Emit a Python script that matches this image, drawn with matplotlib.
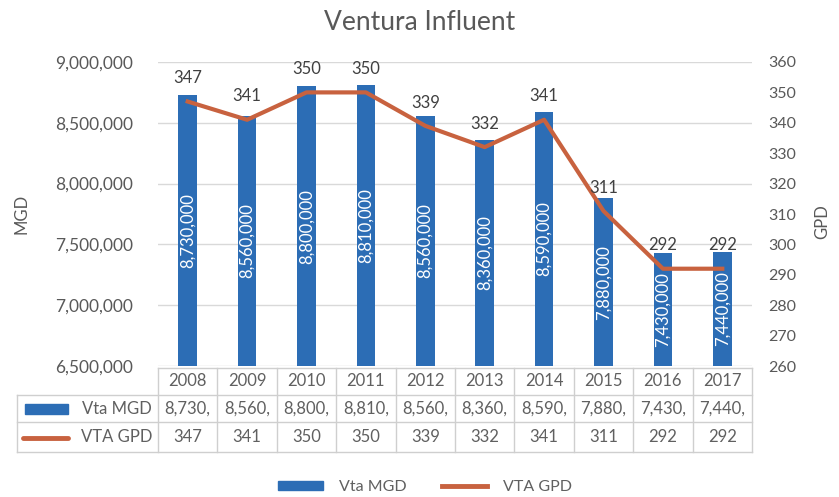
import matplotlib
matplotlib.use("Agg")
import matplotlib.pyplot as plt
from matplotlib.patches import Rectangle
from matplotlib.lines import Line2D
from matplotlib.ticker import FuncFormatter, MultipleLocator

plt.rcParams["font.family"] = ["Lato", "DejaVu Sans"]

# ── data ────────────────────────────────────────────────────────────────────
years   = ["2008", "2009", "2010", "2011", "2012", "2013", "2014", "2015", "2016", "2017"]
vta_mgd = [8730000, 8560000, 8800000, 8810000, 8560000, 8360000, 8590000, 7880000, 7430000, 7440000]
vta_gpd = [347, 341, 350, 350, 339, 332, 341, 311, 292, 292]
series_names = ["Vta MGD", "VTA GPD"]

BLUE  = "#2C6DB5"
RED   = "#C8623F"
GREY  = "#595959"
GRID  = "#D9D9D9"

W, H = 839, 497
fig = plt.figure(figsize=(W / 100, H / 100), dpi=100)
fig.patch.set_facecolor("white")

# plot area in pixel terms
x0, x1, ytop, ybot = 158, 752, 62, 366
ax = fig.add_axes([x0 / W, 1 - ybot / H, (x1 - x0) / W, (ybot - ytop) / H])
n = len(years)
xs = list(range(n))

bars = ax.bar(xs, vta_mgd, width=0.31, color=BLUE, zorder=2)
ax.set_xlim(-0.5, n - 0.5)
ax.set_ylim(6500000, 9000000)
ax.yaxis.set_major_locator(MultipleLocator(500000))
ax.yaxis.set_major_formatter(FuncFormatter(lambda v, p: f"{int(v):,}"))
ax.grid(axis="y", color=GRID, lw=1, zorder=0)
ax.set_xticks([])
ax.tick_params(axis="y", length=0, labelsize=12.5, labelcolor=GREY, pad=18)
for s in ax.spines.values():
    s.set_visible(False)
ax.bar_label(bars, labels=[f"{v:,}" for v in vta_mgd], label_type="center",
             rotation=90, color="white", fontsize=12)

ax2 = ax.twinx()
ax2.plot(xs, vta_gpd, color=RED, lw=3, zorder=3, solid_joinstyle="round")
ax2.set_ylim(260, 360)
ax2.yaxis.set_major_locator(MultipleLocator(10))
ax2.tick_params(axis="y", length=0, labelsize=11.5, labelcolor=GREY, pad=12)
for s in ax2.spines.values():
    s.set_visible(False)
for i, v in enumerate(vta_gpd):
    ax2.annotate(str(v), (i, v), xytext=(0, 11), textcoords="offset points",
                 ha="center", va="bottom", fontsize=12, color="#404040")

fig.text(0.5, 1 - 22 / H, "Ventura Influent", ha="center", va="center",
         fontsize=19, color=GREY)
fig.text(22 / W, 1 - 214 / H, "MGD", rotation=90, ha="center", va="center",
         fontsize=12, color=GREY)
fig.text(822 / W, 1 - 222 / H, "GPD", rotation=90, ha="center", va="center",
         fontsize=12, color=GREY)

# ── data table under the chart ──────────────────────────────────────────────
tb = fig.add_axes([0, 0, 1, 1], zorder=5)
tb.set_xlim(0, W)
tb.set_ylim(H, 0)
tb.axis("off")
tb.patch.set_alpha(0)

colw = (x1 - x0) / n
rows = [368, 395, 422, 452]
lc = "#CFCFCF"
tb.plot([x0, x1], [rows[0], rows[0]], color=lc, lw=1)
for y in rows[1:]:
    tb.plot([17, x1], [y, y], color=lc, lw=1)
for i in range(n + 1):
    tb.plot([x0 + i * colw] * 2, [rows[0], rows[3]], color=lc, lw=1)
tb.plot([17, 17], [rows[1], rows[3]], color=lc, lw=1)

TXT = "#606060"
for i in range(n):
    cx = x0 + (i + 0.5) * colw
    tb.text(cx, (rows[0] + rows[1]) / 2, years[i], ha="center", va="center",
            fontsize=12, color=TXT)
    tb.text(cx, (rows[1] + rows[2]) / 2, f"{vta_mgd[i] // 1000:,},", ha="center",
            va="center", fontsize=12, color=TXT)
    tb.text(cx, (rows[2] + rows[3]) / 2, str(vta_gpd[i]), ha="center",
            va="center", fontsize=12, color=TXT)

tb.add_patch(Rectangle((25, 404), 43, 10, color=BLUE))
tb.plot([23, 68], [438, 438], color=RED, lw=3.5, solid_capstyle="round")
tb.text(152, (rows[1] + rows[2]) / 2, series_names[0], ha="right", va="center",
        fontsize=12, color=TXT)
tb.text(152, (rows[2] + rows[3]) / 2, series_names[1], ha="right", va="center",
        fontsize=12, color=TXT)

# ── bottom legend ───────────────────────────────────────────────────────────
handles = [Rectangle((0, 0), 1, 1, color=BLUE),
           Line2D([], [], color=RED, lw=3.5)]
fig.legend(handles, series_names, loc="center", bbox_to_anchor=(425 / W, 1 - 487 / H),
           ncol=2, frameon=False, fontsize=11.5, labelcolor=TXT, handlelength=2.8,
           handleheight=0.55, columnspacing=2.2, handletextpad=1.0)

fig.savefig("out.png", dpi=100, facecolor="white")
